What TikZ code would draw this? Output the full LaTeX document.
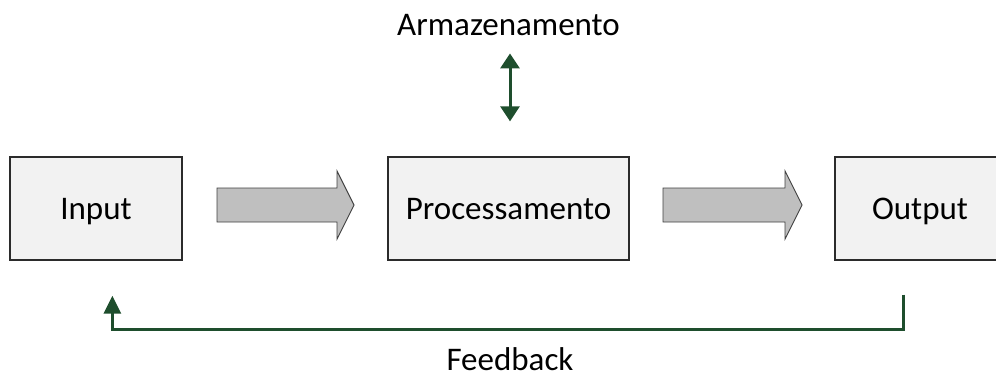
\documentclass[tikz,border=0pt]{standalone}
\usepackage{fontspec}
\setmainfont{Carlito}
\usetikzlibrary{arrows.meta,calc}
\definecolor{boxfill}{HTML}{F2F2F2}
\definecolor{boxline}{HTML}{2B2B2B}
\definecolor{flowfill}{HTML}{BFBFBF}
\definecolor{flowline}{HTML}{404040}
\definecolor{loopgreen}{RGB}{30,78,45}
\tikzset{
  stage/.style={draw=boxline, line width=1.3pt, fill=boxfill, inner sep=0pt,
    minimum height=103pt, text height=22pt, text depth=0pt,
    font=\fontsize{33}{40}\selectfont},
  label/.style={inner sep=0pt, anchor=base, font=\fontsize{33}{40}\selectfont},
  flow/.style={draw=flowline, line width=0.9pt, fill=flowfill, line join=miter},
  link/.style={draw=loopgreen, line width=3pt},
}
\newcommand{\blockarrow}[2]{% left end x, tip x
  \draw[flow] (#1,188) -- (#2-17,188) -- (#2-17,171) -- (#2,205)
    -- (#2-17,239) -- (#2-17,222) -- (#1,222) -- cycle;}
\begin{document}
\begin{tikzpicture}[x=1pt,y=-1pt]
  \useasboundingbox (0,0) rectangle (996,376);

  % the three stages
  \node[stage, minimum width=172pt] (in) at (96,208.5) {Input};
  \node[stage, minimum width=241pt] (proc) at (508.5,208.5) {Processamento};
  \node[stage, minimum width=170pt] (out) at (920,208.5) {Output};

  % flow between the stages
  \blockarrow{217}{354}
  \blockarrow{663}{802}

  % storage above the processing stage
  \node[label] (arm) at (508.5,35) {Armazenamento};
  \draw[link, {Triangle[width=19pt,length=15pt]}-{Triangle[width=19pt,length=15pt]},
        shorten <=18pt, shorten >=35pt]
    ([xshift=1.5pt]arm.south) -- ([xshift=1.5pt]proc.north);

  % feedback loop from output back to input
  \node[label] (fb) at (510,370) {Feedback};
  \draw[link, -{Triangle[width=17pt,length=18pt]}, line join=miter,
        shorten <=34pt, shorten >=35pt]
    ([xshift=69pt]out.south west) -- ++(0,69) -| ([xshift=103pt]in.south west);
\end{tikzpicture}
\end{document}
